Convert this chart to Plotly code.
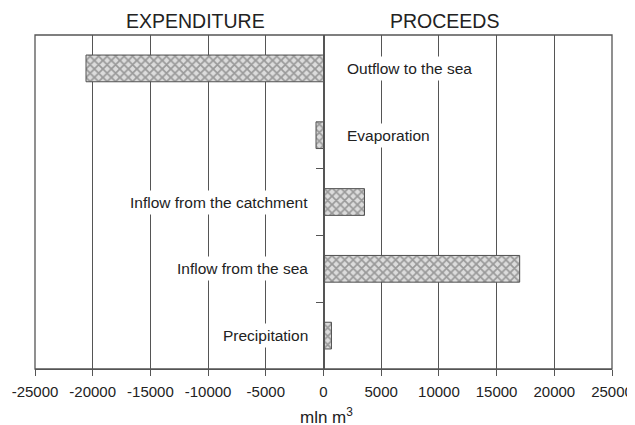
import plotly.graph_objects as go

categories = ["Precipitation", "Inflow from the sea", "Inflow from the catchment", "Evaporation", "Outflow to the sea"]
values = [690, 17000, 3550, -650, -20580]
label_side = ["left", "left", "left", "right", "right"]
tick_vals = [-25000, -20000, -15000, -10000, -5000, 0, 5000, 10000, 15000, 20000, 25000]
tick_text = ["-25000", "-20000", "-15000", "-10000", "-5000", "0", "5000", "10000", "15000", "20000", "25000"]
headers = ["EXPENDITURE", "PROCEEDS"]
header_x = [-11135, 10450]
axis_title = "mln m<sup>3</sup>"

FONT = "Liberation Sans, Arial, sans-serif"
TXT = "#222"
LINE = "#555"
ypos = list(range(len(categories)))

# page body has an 8px default margin, so the figure is sized/offset to compensate
fig = go.Figure()
fig.add_trace(go.Bar(
    x=values, y=ypos, orientation="h", width=0.4,
    marker=dict(color="#dcdcdc", line=dict(color="#505050", width=1),
                pattern=dict(shape="x", fgcolor="#555555", bgcolor="#dcdcdc", size=6, solidity=0.5)),
    showlegend=False, hoverinfo="skip"))

annotations = []
for c, yv, side in zip(categories, ypos, label_side):
    right = side == "right"
    annotations.append(dict(x=0, y=yv, xref="x", yref="y", text=c, showarrow=False,
                            xanchor="left" if right else "right", yanchor="middle",
                            xshift=19 if right else -12,
                            bgcolor="white", borderpad=3,
                            font=dict(family=FONT, size=15.5, color=TXT)))
for h, hx in zip(headers, header_x):
    annotations.append(dict(x=hx, y=1.0, xref="x", yref="paper", yshift=14, text=h, showarrow=False,
                            xanchor="center", yanchor="middle",
                            font=dict(family=FONT, size=19.5, color=TXT)))
annotations.append(dict(x=0, y=0, xref="x", yref="paper", yshift=-47, xshift=3, text=axis_title,
                        showarrow=False, xanchor="center", yanchor="middle",
                        font=dict(family=FONT, size=17, color=TXT)))

yrange = [-0.5, 4.5]
fig.update_layout(
    width=627, height=417,
    margin=dict(l=27, r=23, t=27, b=56),
    paper_bgcolor="white", plot_bgcolor="white",
    font=dict(family=FONT, size=15, color=TXT),
    annotations=annotations,
    xaxis=dict(range=[-25000, 25000], tickvals=tick_vals, ticktext=tick_text,
               showgrid=True, gridcolor=LINE, gridwidth=1.3, automargin=False,
               zeroline=False, showline=True, linecolor=LINE, linewidth=1.3,
               ticks="outside", ticklen=6, tickcolor=LINE, tickwidth=1.3, ticklabelstandoff=3,
               tickfont=dict(family=FONT, size=15, color=TXT)),
    yaxis=dict(range=yrange, tickvals=[0.5, 1.5, 2.5], showticklabels=False,
               ticks="outside", ticklen=7, tickcolor=LINE, tickwidth=1.3, automargin=False,
               showgrid=False, zeroline=False, showline=True, linecolor=LINE, linewidth=1.3,
               anchor="free", position=0.5),
    yaxis2=dict(range=yrange, tickvals=[3.5], showticklabels=False, overlaying="y",
                ticks="inside", ticklen=8, tickcolor=LINE, tickwidth=1.3, automargin=False,
                showgrid=False, zeroline=False, showline=False,
                anchor="free", position=0.5),
    shapes=[dict(type="rect", xref="paper", yref="paper", x0=0, x1=1, y0=0, y1=1,
                 line=dict(color=LINE, width=1.3), layer="above")],
)

fig.write_html("out.html")
